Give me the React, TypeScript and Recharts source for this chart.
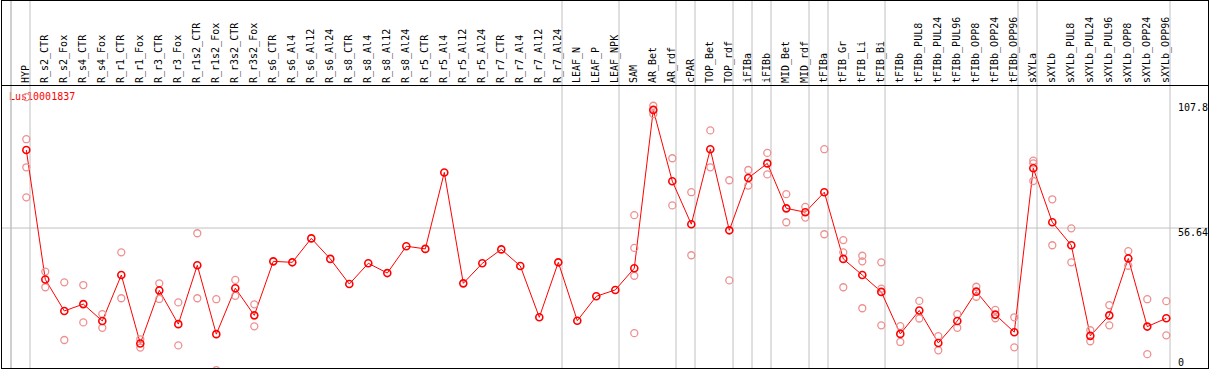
import React from "react";
import { ComposedChart, Line, Scatter, XAxis, YAxis, ReferenceLine, ReferenceArea } from "recharts";

const geneId = "Lus10001837";

const categories = [
  "HYP", "R_s2_CTR", "R_s2_Fox", "R_s4_CTR", "R_s4_Fox", "R_r1_CTR", "R_r1_Fox", "R_r3_CTR", "R_r3_Fox",
  "R_r1s2_CTR", "R_r1s2_Fox", "R_r3s2_CTR", "R_r3s2_Fox", "R_s6_CTR", "R_s6_Al4", "R_s6_Al12", "R_s6_Al24",
  "R_s8_CTR", "R_s8_Al4", "R_s8_Al12", "R_s8_Al24", "R_r5_CTR", "R_r5_Al4", "R_r5_Al12", "R_r5_Al24",
  "R_r7_CTR", "R_r7_Al4", "R_r7_Al12", "R_r7_Al24", "LEAF_N", "LEAF_P", "LEAF_NPK", "SAM", "AR_Bet", "AR_rdf",
  "cPAR", "TOP_Bet", "TOP_rdf", "iFIBa", "iFIBb", "MID_Bet", "MID_rdf", "tFIBa", "tFIB_Gr", "tFIB_Li", "tFIB_Bi",
  "tFIBb", "tFIBb_PUL8", "tFIBb_PUL24", "tFIBb_PUL96", "tFIBb_OPP8", "tFIBb_OPP24", "tFIBb_OPP96",
  "sXYLa", "sXYLb", "sXYLb_PUL8", "sXYLb_PUL24", "sXYLb_PUL96", "sXYLb_OPP8", "sXYLb_OPP24", "sXYLb_OPP96",
];

const means = [
  88.6, 35.6, 22.7, 25.5, 18.6, 37.4, 9.4, 31.1, 17.3, 41.4, 13.2, 32.0, 20.9, 43.0, 42.6, 52.4, 44.0,
  33.7, 42.2, 38.2, 49.2, 48.1, 79.4, 34.0, 42.2, 47.9, 41.1, 20.1, 42.6, 18.7, 28.7, 31.3, 40.2, 105.0,
  75.8, 58.2, 88.9, 55.7, 77.1, 83.1, 64.7, 63.1, 71.3, 44.0, 37.4, 30.5, 13.3, 22.9, 9.6, 18.6, 30.6,
  21.2, 14.0, 81.1, 59.0, 49.6, 12.5, 20.9, 44.2, 16.3, 19.7,
];

const replicates: number[][] = [
  [110.2, 93.0, 81.5, 69.2], [38.8, 32.4], [34.4, 10.8], [33.3, 18.0], [21.4, 15.8], [46.7, 27.9],
  [11.1, 7.7], [34.0, 27.6], [26.2, 8.6], [54.5, 27.9], [27.5, -1.5], [35.4, 28.9], [25.4, 16.4],
  [], [], [], [], [], [], [], [], [], [], [], [], [], [], [], [], [], [], [],
  [61.9, 48.5, 37.1, 13.6], [106.7, 103.3], [85.2, 65.9], [71.3, 45.5], [96.6, 81.5], [76.2, 35.2],
  [80.4, 74.0], [87.4, 78.6], [70.5, 59.0], [65.3, 60.9], [88.9, 54.1], [51.7, 46.7, 32.4],
  [45.3, 43.0, 23.8], [42.6, 31.8, 16.8], [16.5, 10.0], [26.8, 19.6], [12.4, 6.6], [21.4, 15.8],
  [32.6, 28.5], [23.1, 19.7], [20.1, 7.8], [84.2, 83.1, 75.9], [68.4, 49.6], [56.5, 42.6],
  [14.8, 10.3], [25.1, 16.8], [47.2, 41.2], [27.5, 5.0], [26.7, 12.7],
];

// index of the last category of each group (the group borders); -1 = left edge of the first group
const groupEnds = [-1, 0, 28, 31, 34, 35, 37, 38, 39, 41, 42, 45, 52, 53, 60];

const yTicks = [0, 56.64, 107.8];

const lineData = categories.map((name, i) => ({ x: i, name, mean: means[i] }));
const repData = replicates.flatMap((reps, i) => reps.map((v) => ({ x: i, y: v })));

const W = 1209;
const H = 370;
const FONT = "'DejaVu Sans Mono', monospace";
const GRID = "#c0c0c0";
const SEP_OFFSET = 0.195;

const CatTick = (props: any) => {
  const { x, payload } = props;
  const label = categories[payload.value];
  if (label === undefined) return null;
  const tx = x + 3;
  const ty = 83;
  return (
    <text x={tx} y={ty} transform={`rotate(-90, ${tx}, ${ty})`} textAnchor="start" fontFamily={FONT} fontSize={10} fill="#000">
      {label}
    </text>
  );
};

const ValTick = (props: any) => {
  const { y, payload } = props;
  const base = Math.min(y + 7.5, 365.5);
  return (
    <text x={1178} y={base} textAnchor="start" fontFamily={FONT} fontSize={10} fill="#000">
      {String(payload.value)}
    </text>
  );
};

const RepDot = (p: any) => (
  <circle cx={p.cx} cy={p.cy} r={3.5} fill="none" stroke="#ee9090" strokeWidth={1.3} />
);

export default function App() {
  return (
    <div style={{ position: "absolute", left: 0, top: 0, width: W, height: H, background: "#fff" }}>
      <div
        style={{
          position: "absolute", left: 9, top: 91, fontFamily: FONT, fontSize: 10, lineHeight: "11px",
          color: "#ff0000", whiteSpace: "nowrap",
        }}
      >
        {geneId}
      </div>
      <div style={{ position: "absolute", left: 0, top: 0 }}>
        <ComposedChart width={W} height={H} data={lineData} margin={{ top: 0, right: 0, bottom: 1, left: 1 }}>
          <XAxis
            dataKey="x"
            type="number"
            orientation="top"
            height={1}
            domain={[-1.3316, 62.195]}
            allowDataOverflow
            ticks={categories.map((_, i) => i)}
            interval={0}
            tick={CatTick}
            tickLine={false}
            axisLine={false}
          />
          <YAxis
            type="number"
            orientation="right"
            width={1}
            domain={[-1.064, 149.57]}
            allowDataOverflow
            ticks={yTicks}
            interval={0}
            tick={ValTick}
            tickLine={false}
            axisLine={false}
          />
          <ReferenceArea
            x1={groupEnds[0] + SEP_OFFSET - 0.026}
            x2={groupEnds[0] + SEP_OFFSET + 0.026}
            fill={GRID}
            fillOpacity={1}
            stroke="none"
            ifOverflow="visible"
          />
          {groupEnds.map((g) => (
            <ReferenceLine key={`sep${g + 1}`} x={g + SEP_OFFSET} stroke={GRID} strokeWidth={1} ifOverflow="visible" />
          ))}
          <ReferenceLine y={56.64} stroke={GRID} strokeWidth={1} />
          <Scatter data={repData} dataKey="y" shape={RepDot} isAnimationActive={false} />
          <Line
            dataKey="mean"
            stroke="#ff0000"
            strokeWidth={1}
            dot={{ r: 3.5, stroke: "#ff0000", strokeWidth: 1.6, fill: "none" }}
            activeDot={false}
            isAnimationActive={false}
          />
        </ComposedChart>
      </div>
      <div
        style={{
          position: "absolute", left: 1, top: 0, width: 1208, height: 369, border: "1px solid #000",
          boxSizing: "border-box", pointerEvents: "none",
        }}
      />
      <div style={{ position: "absolute", left: 1, top: 85, width: 1208, height: 1, background: "#000" }} />
    </div>
  );
}
